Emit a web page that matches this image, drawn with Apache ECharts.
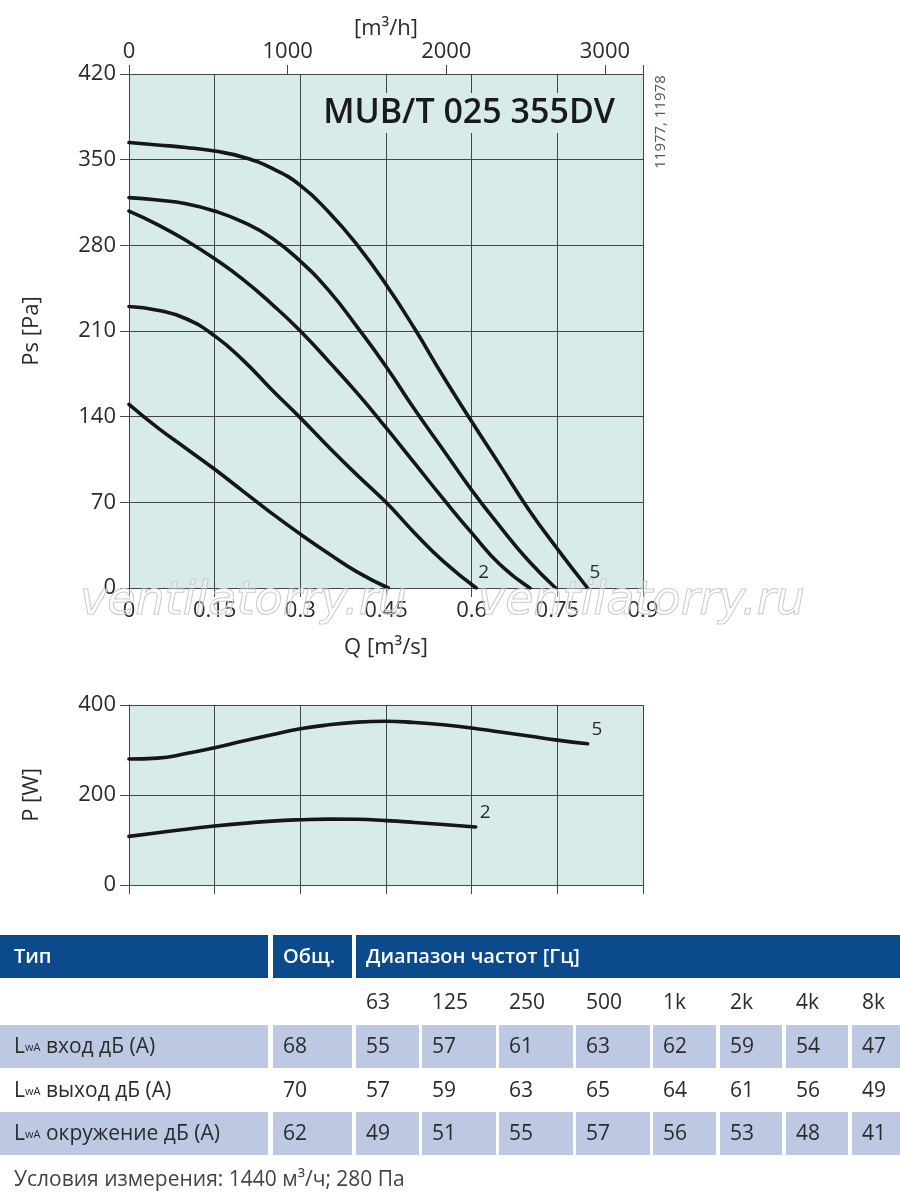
<!DOCTYPE html>
<html><head><meta charset="utf-8">
<script src="https://cdn.jsdelivr.net/npm/echarts@6/dist/echarts.min.js"></script>
<style>html,body{margin:0;padding:0;background:#fff}#c{width:900px;height:1202px}</style>
</head><body><div id="c"></div>
<script>
// ---- Pressure curves Ps [Pa] vs Q [m3/s] (speed steps 1..5)
const psCurve1 = [[0,150],[0.05,131],[0.1,114],[0.15,97],[0.2,79],[0.25,61],[0.3,44],[0.35,28],[0.4,13],[0.454,0]];
const psCurve2 = [[0,230],[0.05,227],[0.1,220],[0.15,206],[0.2,186],[0.25,162],[0.3,139],[0.35,115],[0.4,92],[0.45,70],[0.5,45],[0.55,22],[0.608,0]];
const psCurve3 = [[0,308],[0.05,297],[0.1,284],[0.15,269],[0.2,252],[0.25,232],[0.3,210],[0.35,185],[0.4,159],[0.45,131],[0.5,102],[0.55,73],[0.6,45],[0.65,19],[0.702,0]];
const psCurve4 = [[0,319],[0.05,317],[0.1,314],[0.15,308],[0.2,299],[0.25,286],[0.3,267],[0.35,243],[0.4,213],[0.45,181],[0.5,146],[0.55,113],[0.6,80],[0.65,50],[0.7,22],[0.747,0]];
const psCurve5 = [[0,364],[0.05,362],[0.1,360],[0.15,357],[0.2,352],[0.25,343],[0.3,329],[0.35,307],[0.4,280],[0.45,248],[0.5,212],[0.55,173],[0.6,136],[0.65,100],[0.7,64],[0.75,32],[0.803,0]];
const psCurves = [psCurve1, psCurve2, psCurve3, psCurve4, psCurve5];
const psCurveTags = ['', '2', '', '', '5'];

// ---- Power curves P [W] vs Q [m3/s]
const pwCurve2 = [[0,108],[0.05,116],[0.1,124],[0.15,131],[0.2,137],[0.25,142],[0.3,145],[0.35,146.5],[0.4,146],[0.45,143],[0.5,139],[0.55,134.5],[0.607,129]];
const pwCurve5 = [[0,280],[0.05,282],[0.1,292],[0.15,305],[0.2,320],[0.25,334],[0.3,347],[0.35,356],[0.4,362],[0.45,364],[0.5,361],[0.55,356],[0.6,349],[0.65,340],[0.7,331],[0.75,322],[0.803,314]];
const pwCurves = [pwCurve2, pwCurve5];
const pwCurveTags = ['2', '5'];

// ---- Axes
const qMin = 0, qMax = 0.9, qStep = 0.15;
const qhMax = 3240, qhStep = 1000;       // 0.9 m3/s = 3240 m3/h
const psMin = 0, psMax = 420, psStep = 70;
const pwMin = 0, pwMax = 400, pwStep = 200;

// ---- Texts
const chartTitle = 'MUB/T 025 355DV';
const chartCode = '11977, 11978';
const watermark = 'ventilatorry.ru';

// ---- Sound table
const tableHeader = ['Тип', 'Общ.', 'Диапазон частот [Гц]'];
const freqBands = ['63', '125', '250', '500', '1k', '2k', '4k', '8k'];
const rowLabels = ['вход дБ (А)', 'выход дБ (А)', 'окружение дБ (А)'];
const rowTotals = ['68', '70', '62'];
const rowInlet = ['55', '57', '61', '63', '62', '59', '54', '47'];
const rowOutlet = ['57', '59', '63', '65', '64', '61', '56', '49'];
const rowSurround = ['49', '51', '55', '57', '56', '53', '48', '41'];
const footnote = 'Условия измерения: 1440 м³/ч; 280 Па';

const FONT = '"Open Sans", "Noto Sans", sans-serif';
const TXT = '#2b2b2b';
const GRIDC = '#454545';
const PLOTBG = '#d7ebea';
const HEADBG = '#0b4a8b';
const ROWBG = '#bdc9e3';

function axisCommon(extra) {
  return Object.assign({
    type: 'value',
    axisLine: { show: true, lineStyle: { color: GRIDC, width: 1 } },
    axisTick: { show: true, length: 9, lineStyle: { color: GRIDC, width: 1 } },
    axisLabel: { fontSize: 22, color: TXT, fontFamily: FONT },
    splitLine: { show: true, lineStyle: { color: GRIDC, width: 1 } },
    nameTextStyle: { fontSize: 22, color: TXT, fontFamily: FONT }
  }, extra);
}

const series = [];
psCurves.forEach((c, i) => {
  series.push({
    type: 'line', xAxisIndex: 0, yAxisIndex: 0, data: c,
    smooth: 0.5, showSymbol: false, symbol: 'none',
    lineStyle: { color: '#161616', width: 3.6, cap: 'round' },
    endLabel: psCurveTags[i] ? { show: true, formatter: psCurveTags[i], offset: [0, -15], distance: 2, fontSize: 19, color: TXT, fontFamily: FONT } : { show: false },
    silent: true, z: 3
  });
});
pwCurves.forEach((c, i) => {
  series.push({
    type: 'line', xAxisIndex: 2, yAxisIndex: 1, data: c,
    smooth: 0.5, showSymbol: false, symbol: 'none',
    lineStyle: { color: '#161616', width: 3.6, cap: 'round' },
    endLabel: { show: true, formatter: pwCurveTags[i], offset: [0, -14], distance: 4, fontSize: 19, color: TXT, fontFamily: FONT },
    silent: true, z: 3
  });
});

// ---- table graphics
const colL = [0, 273, 356, 422, 499, 576, 653, 720, 786, 852];
const colR = [268, 352, 419, 496, 573, 650, 716, 782, 848, 900];
const g = [];
const headSpans = [[0, 268], [273, 352], [356, 900]];
headSpans.forEach((s, i) => {
  g.push({ type: 'rect', shape: { x: s[0], y: 935, width: s[1] - s[0], height: 43 }, style: { fill: HEADBG } });
  g.push({ type: 'text', x: s[0] + (i === 0 ? 14 : 10), y: 957, style: { text: tableHeader[i], fill: '#fff', fontSize: 20, fontWeight: 600, fontFamily: FONT, verticalAlign: 'middle' } });
});
freqBands.forEach((f, i) => {
  g.push({ type: 'text', x: colL[i + 2] + 10, y: 1003, style: { text: f, fill: TXT, fontSize: 21, fontFamily: FONT, verticalAlign: 'middle' } });
});
const rowVals = [rowInlet, rowOutlet, rowSurround];
const rowTops = [1025, 1069, 1112];
rowVals.forEach((vals, r) => {
  const top = rowTops[r];
  if (r !== 1) {
    for (let c = 0; c < colL.length; c++) {
      g.push({ type: 'rect', shape: { x: colL[c], y: top, width: colR[c] - colL[c], height: 43 }, style: { fill: ROWBG } });
    }
  }
  const cy = top + 22;
  g.push({ type: 'text', x: 14, y: cy, style: {
    text: '{l|L}{s|wA} ' + rowLabels[r], fill: TXT, fontSize: 21, fontFamily: FONT, verticalAlign: 'middle',
    rich: { l: { fontSize: 21, fontFamily: FONT, fill: TXT }, s: { fontSize: 11, fontFamily: FONT, fill: TXT, verticalAlign: 'bottom', padding: [0, 0, 4, 0] } }
  } });
  g.push({ type: 'text', x: colL[1] + 10, y: cy, style: { text: rowTotals[r], fill: TXT, fontSize: 21, fontFamily: FONT, verticalAlign: 'middle' } });
  vals.forEach((v, i) => {
    g.push({ type: 'text', x: colL[i + 2] + 10, y: cy, style: { text: v, fill: TXT, fontSize: 21, fontFamily: FONT, verticalAlign: 'middle' } });
  });
});
g.push({ type: 'text', x: 14, y: 1180, style: { text: footnote, fill: '#444', fontSize: 21, fontFamily: FONT, verticalAlign: 'middle' } });

// title, code, watermark
g.push({ type: 'text', x: 619, y: 113, z: 10, style: { text: chartTitle, fill: '#1a1a1a', fontSize: 34, fontWeight: 600, fontFamily: FONT, align: 'right', verticalAlign: 'middle', backgroundColor: PLOTBG, padding: [3, 4, 3, 8] } });
g.push({ type: 'text', x: 661, y: 122, rotation: Math.PI / 2, style: { text: chartCode, fill: '#555', fontSize: 15, fontFamily: FONT, align: 'center', verticalAlign: 'middle' } });
[80, 478].forEach(x => {
  g.push({ type: 'text', x: x, y: 602, z: 20, silent: true, style: { text: watermark, fill: 'rgba(255,255,255,0.3)', stroke: '#c4c4c4', lineWidth: 1.1, fontSize: 46, fontStyle: 'italic', fontFamily: '"DejaVu Sans", sans-serif', verticalAlign: 'middle' } });
});

const option = {
  animation: false,
  textStyle: { fontFamily: FONT },
  grid: [
    { left: 129, top: 74, width: 514, height: 514, show: true, backgroundColor: PLOTBG, borderWidth: 0 },
    { left: 129, top: 705, width: 514, height: 180, show: true, backgroundColor: PLOTBG, borderWidth: 0 }
  ],
  xAxis: [
    axisCommon({ gridIndex: 0, position: 'bottom', min: qMin, max: qMax, interval: qStep,
      axisLabel: { fontSize: 22, color: TXT, fontFamily: FONT, margin: 12, formatter: v => String(+v.toFixed(2)) },
      name: 'Q [m³/s]', nameLocation: 'middle', nameGap: 49 }),
    axisCommon({ gridIndex: 0, position: 'top', min: 0, max: qhMax, interval: qhStep, splitLine: { show: false },
      axisLabel: { fontSize: 22, color: TXT, fontFamily: FONT, margin: 11, formatter: v => (v % qhStep === 0 ? String(v) : '') },
      name: '[m³/h]', nameLocation: 'middle', nameGap: 34 }),
    axisCommon({ gridIndex: 1, position: 'bottom', min: qMin, max: qMax, interval: qStep, axisLabel: { show: false } })
  ],
  yAxis: [
    axisCommon({ gridIndex: 0, min: psMin, max: psMax, interval: psStep,
      axisLabel: { fontSize: 22, color: TXT, fontFamily: FONT, margin: 13 },
      name: 'Ps [Pa]', nameLocation: 'middle', nameGap: 86, nameRotate: 90 }),
    axisCommon({ gridIndex: 1, min: pwMin, max: pwMax, interval: pwStep,
      axisLabel: { fontSize: 22, color: TXT, fontFamily: FONT, margin: 13 },
      name: 'P [W]', nameLocation: 'middle', nameGap: 86, nameRotate: 90 })
  ],
  series: series,
  graphic: g
};
const chart = echarts.init(document.getElementById('c'), null, { renderer: 'canvas' });
chart.setOption(option);
</script>
</body></html>
